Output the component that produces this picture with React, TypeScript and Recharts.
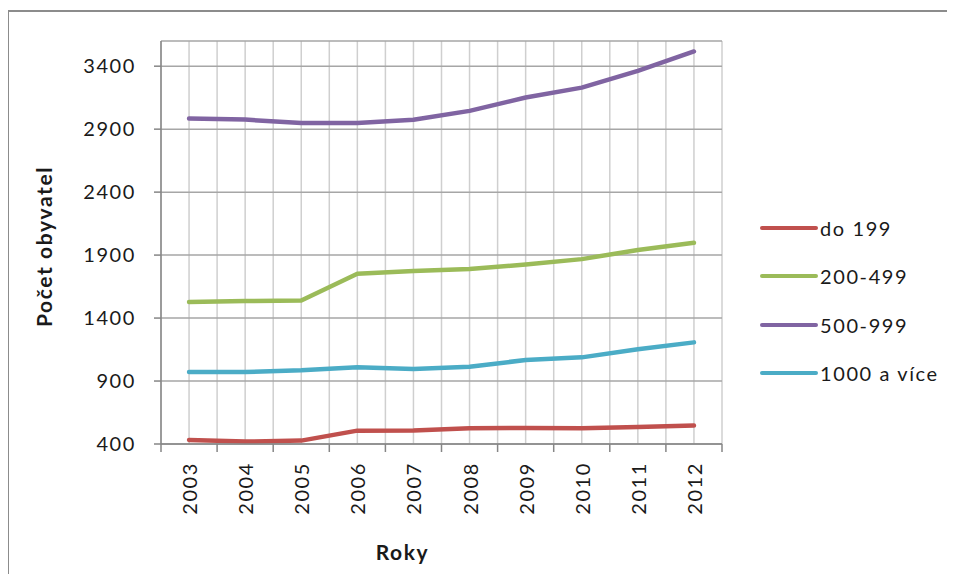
import React from 'react';
import { LineChart, Line, XAxis, YAxis, CartesianGrid, Legend, Label } from 'recharts';

// Počet obyvatel podle velikostní skupiny obcí, 2003–2012
const years = ['2003', '2004', '2005', '2006', '2007', '2008', '2009', '2010', '2011', '2012'];
const do199 = [432, 419, 427, 506, 508, 525, 527, 525, 535, 546];
const od200do499 = [1527, 1535, 1540, 1752, 1773, 1789, 1825, 1868, 1940, 1998];
const od500do999 = [2984, 2976, 2948, 2948, 2974, 3045, 3151, 3230, 3363, 3517];
const od1000 = [971, 971, 985, 1009, 995, 1013, 1067, 1088, 1152, 1207];
const yTicks = [400, 900, 1400, 1900, 2400, 2900, 3400];

const series = [
    { key: 'do199', name: 'do 199', color: '#C0504D' },
    { key: 'od200do499', name: '200-499', color: '#9BBB59' },
    { key: 'od500do999', name: '500-999', color: '#8064A2' },
    { key: 'od1000', name: '1000 a více', color: '#4BACC6' },
];

const data = years.map((year, i) => ({
    idx: i,
    year,
    do199: do199[i],
    od200do499: od200do499[i],
    od500do999: od500do999[i],
    od1000: od1000[i],
}));

// category centres get a label, category boundaries get a tick mark
const xTicks = years.flatMap((_, i) => [i - 0.5, i]).concat(years.length - 0.5);

const FONT = 'Lato, "Open Sans", sans-serif';
const AXIS = '#868686';
const TEXT = '#1a1a1a';
const SPACING = 1.6;

const XTick = (props: any) => {
    const { x, y, payload } = props;
    const v = payload.value;
    if (!Number.isInteger(v)) {
        return <line x1={x} x2={x} y1={y} y2={y + 8} stroke={AXIS} strokeWidth={1.5} />;
    }
    const ty = y + 18;
    return (
        <text
            x={x}
            y={ty}
            transform={`rotate(-90 ${x} ${ty})`}
            textAnchor="end"
            dominantBaseline="central"
            fontSize={20}
            fontFamily={FONT}
            letterSpacing={SPACING}
            fill={TEXT}
        >
            {years[v]}
        </text>
    );
};

const renderLegend = () => (
    <div style={{ fontFamily: FONT, fontSize: 20, letterSpacing: SPACING, color: TEXT }}>
        {series.map(s => (
            <div key={s.key} style={{ display: 'flex', alignItems: 'center', height: 48.3 }}>
                <svg width={58} height={8} style={{ marginRight: 2 }}>
                    <line x1={2} x2={56} y1={4} y2={4} stroke={s.color} strokeWidth={4} strokeLinecap="round" />
                </svg>
                <span>{s.name}</span>
            </div>
        ))}
    </div>
);

export default function App() {
    return (
        <div style={{ position: 'relative', width: 955, height: 582, margin: -8, overflow: 'hidden', background: '#fff' }}>
            <div
                style={{
                    position: 'absolute',
                    left: 7,
                    top: 10,
                    width: 980,
                    height: 600,
                    borderTop: '2px solid #8c8c8c',
                    borderLeft: '2px solid #8c8c8c',
                }}
            />
            <LineChart
                width={955}
                height={582}
                data={data}
                margin={{ top: 41, right: 233, bottom: 0, left: 0 }}
            >
                <CartesianGrid horizontal={false} stroke="#cfcfcf" strokeWidth={1.5} />
                <CartesianGrid vertical={false} stroke="#a6a6a6" strokeWidth={1.5} />
                <XAxis
                    type="number"
                    dataKey="idx"
                    domain={[-0.5, years.length - 0.5]}
                    ticks={xTicks}
                    interval={0}
                    height={138}
                    tickSize={0}
                    tickMargin={0}
                    tick={<XTick />}
                    axisLine={{ stroke: AXIS, strokeWidth: 1.5 }}
                >
                    <Label
                        content={(p: any) => {
                            const vb = p.viewBox;
                            return (
                                <text
                                    x={vb.x + vb.width / 2 - 39}
                                    y={vb.y + 107}
                                    textAnchor="middle"
                                    dominantBaseline="central"
                                    fontSize={21}
                                    fontWeight="bold"
                                    fontFamily={FONT}
                                    letterSpacing={SPACING}
                                    fill={TEXT}
                                >
                                    Roky
                                </text>
                            );
                        }}
                    />
                </XAxis>
                <YAxis
                    type="number"
                    domain={[400, 3600]}
                    ticks={yTicks}
                    interval={0}
                    width={161}
                    tickSize={7}
                    tickMargin={18}
                    tick={{ fontSize: 20, fontFamily: FONT, fill: TEXT, letterSpacing: SPACING }}
                    tickLine={{ stroke: AXIS, strokeWidth: 1.5 }}
                    axisLine={{ stroke: AXIS, strokeWidth: 1.5 }}
                >
                    <Label
                        content={(p: any) => {
                            const vb = p.viewBox;
                            const cx = 43;
                            const cy = vb.y + vb.height / 2 + 4;
                            return (
                                <text
                                    x={cx}
                                    y={cy}
                                    transform={`rotate(-90 ${cx} ${cy})`}
                                    textAnchor="middle"
                                    dominantBaseline="central"
                                    fontSize={21}
                                    fontWeight="bold"
                                    fontFamily={FONT}
                                    letterSpacing={SPACING}
                                    fill={TEXT}
                                >
                                    Počet obyvatel
                                </text>
                            );
                        }}
                    />
                </YAxis>
                <Legend
                    layout="horizontal"
                    verticalAlign="middle"
                    align="center"
                    content={renderLegend}
                    wrapperStyle={{ left: 760, top: 204, width: 190 }}
                />
                {series.map(s => (
                    <Line
                        key={s.key}
                        type="linear"
                        dataKey={s.key}
                        name={s.name}
                        stroke={s.color}
                        strokeWidth={4.5}
                        strokeLinecap="round"
                        strokeLinejoin="round"
                        dot={false}
                        activeDot={false}
                        isAnimationActive={false}
                    />
                ))}
            </LineChart>
        </div>
    );
}
